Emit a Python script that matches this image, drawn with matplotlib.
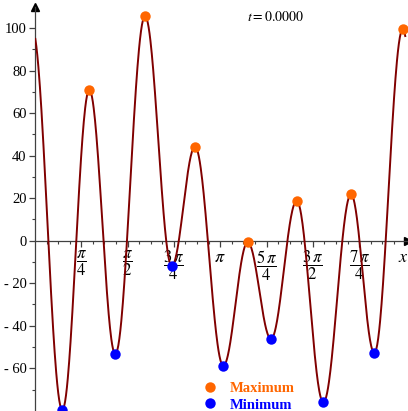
import numpy as np
import matplotlib
matplotlib.use("Agg")
import matplotlib.pyplot as plt
from matplotlib.lines import Line2D

plt.rcParams['font.family'] = ['Liberation Serif', 'DejaVu Serif']
plt.rcParams['mathtext.fontset'] = 'stix'

# ---- data ----
max_x = [0.921, 1.866, 2.714, 3.608, 4.439, 5.360, 6.237]
max_y = [70.9, 105.6, 44.2, -0.75, 18.7, 21.8, 99.4]
min_x = [0.463, 1.362, 2.319, 3.194, 4.003, 4.891, 5.756]
min_y = [-79.6, -53.3, -11.9, -58.8, -46.2, -76.0, -52.8]
t_value = 0.0
xtick_vals = [np.pi/4, np.pi/2, 3*np.pi/4, np.pi, 5*np.pi/4, 3*np.pi/2, 7*np.pi/4]
xtick_labels = [r'$\dfrac{\pi}{4}$', r'$\dfrac{\pi}{2}$', r'$\dfrac{3\,\pi}{4}$', r'$\pi$',
                r'$\dfrac{5\,\pi}{4}$', r'$\dfrac{3\,\pi}{2}$', r'$\dfrac{7\,\pi}{4}$']
ytick_vals = [-60, -40, -20, 0, 20, 40, 60, 80, 100]
ytick_labels = ['- 60', '- 40', '- 20', '0', '20', '40', '60', '80', '100']

W, H = 408, 411
fig = plt.figure(figsize=(W/100, H/100), dpi=100)
ax = fig.add_axes([35/W, 0, 1 - 35/W, (H - 7)/H])
ax.set_xlim(0, 6.327)
ax.set_ylim(-80.1, 109.9)

# smooth curve through extrema (period 2*pi), cosine-shaped between neighbours
ex = np.array(sorted(zip(max_x + min_x, max_y + min_y)))
kx = np.concatenate([[ex[-1, 0] - 2*np.pi], ex[:, 0], [ex[0, 0] + 2*np.pi]])
ky = np.concatenate([[ex[-1, 1]], ex[:, 1], [ex[0, 1]]])
cx, cy = [], []
for i in range(len(kx) - 1):
    s = np.linspace(0, 1, 60)
    cx.append(kx[i] + (kx[i+1] - kx[i]) * s)
    cy.append(ky[i] + (ky[i+1] - ky[i]) * (1 - np.cos(np.pi * s)) / 2)
cx = np.concatenate(cx); cy = np.concatenate(cy)
mask = (cx >= 0) & (cx <= 2*np.pi)
ax.plot(cx[mask], cy[mask], color='#800000', lw=1.4, zorder=3)

ax.plot(max_x, max_y, 'o', color='#FF6600', ms=7.5, mec='none', zorder=4, clip_on=False)
ax.plot(min_x, min_y, 'o', color='#0000FF', ms=7.5, mec='none', zorder=4, clip_on=True)

# axes through origin
for s in ['top', 'right']:
    ax.spines[s].set_visible(False)
ax.spines['left'].set_position(('data', 0))
ax.spines['bottom'].set_position(('data', 0))
for s in ['left', 'bottom']:
    ax.spines[s].set_color('#404040')
    ax.spines[s].set_linewidth(0.9)
ax.plot(1, 0, '>', color='black', ms=6, transform=ax.get_yaxis_transform(), clip_on=False)
ax.plot(0, 1, '^', color='black', ms=6, transform=ax.get_xaxis_transform(), clip_on=False)

ax.set_xticks(xtick_vals)
ax.set_xticklabels(xtick_labels, fontsize=12)
for lab in ax.get_xticklabels():
    if lab.get_text() == r'$\pi$':
        lab.set_fontsize(13)
ax.set_xticks(np.arange(1, 32) * np.pi/16, minor=True)
ax.set_yticks(ytick_vals)
ax.set_yticklabels(ytick_labels, fontsize=10.5)
ax.set_yticks(np.arange(-70, 101, 10), minor=True)
ax.tick_params(axis='both', which='major', direction='out', length=4, width=0.9, color='#404040')
ax.tick_params(axis='both', which='minor', direction='out', length=2.5, width=0.8, color='#404040')
ax.tick_params(axis='x', pad=2)
ax.tick_params(axis='y', pad=2)

fig.text(403/W, 1 - 257/H, r'$x$', fontsize=13, ha='center', va='center')
fig.text(276/W, 1 - 17/H, r'$t = %.4f$' % t_value, fontsize=10, ha='center', va='center')

handles = [Line2D([], [], ls='none', marker='o', color='#FF6600', ms=7.5, mec='none'),
           Line2D([], [], ls='none', marker='o', color='#0000FF', ms=7.5, mec='none')]
leg = ax.legend(handles, ['Maximum', 'Minimum'], loc='center left',
                bbox_to_anchor=(203/W, 1 - 396.5/H), bbox_transform=fig.transFigure,
                frameon=False, handlelength=1.0, handletextpad=0.8, labelspacing=0.25,
                prop={'weight': 'bold', 'size': 10.5}, borderpad=0, borderaxespad=0)
for txt, c in zip(leg.get_texts(), ['#FF6600', '#0000FF']):
    txt.set_color(c)

fig.savefig('out.png', dpi=100)
